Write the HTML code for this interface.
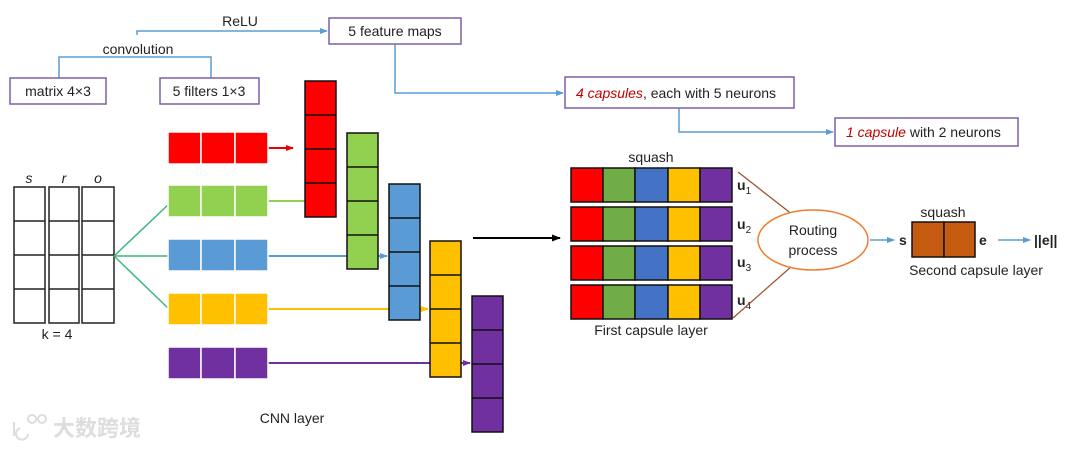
<!DOCTYPE html>
<html><head><meta charset="utf-8"><style>
body{margin:0;background:#fff}
svg text{font-family:"Liberation Sans","Noto Sans CJK SC",sans-serif;font-size:14px;fill:#222}
</style></head><body>
<svg width="1080" height="446" viewBox="0 0 1080 446" xmlns="http://www.w3.org/2000/svg">
<defs>
<marker id="ab" markerWidth="8" markerHeight="8" refX="7" refY="4" orient="auto" markerUnits="userSpaceOnUse"><path d="M0,1 L8,4 L0,7z" fill="#5b9bd5"/></marker>
<marker id="ar" markerWidth="8" markerHeight="8" refX="7" refY="4" orient="auto" markerUnits="userSpaceOnUse"><path d="M0,1 L8,4 L0,7z" fill="#e00"/></marker>
<marker id="ag" markerWidth="8" markerHeight="8" refX="7" refY="4" orient="auto" markerUnits="userSpaceOnUse"><path d="M0,1 L8,4 L0,7z" fill="#92d050"/></marker>
<marker id="abl" markerWidth="8" markerHeight="8" refX="7" refY="4" orient="auto" markerUnits="userSpaceOnUse"><path d="M0,1 L8,4 L0,7z" fill="#5b9bd5"/></marker>
<marker id="ay" markerWidth="8" markerHeight="8" refX="7" refY="4" orient="auto" markerUnits="userSpaceOnUse"><path d="M0,1 L8,4 L0,7z" fill="#ffc000"/></marker>
<marker id="ap" markerWidth="8" markerHeight="8" refX="7" refY="4" orient="auto" markerUnits="userSpaceOnUse"><path d="M0,1 L8,4 L0,7z" fill="#7030a0"/></marker>
<marker id="ak" markerWidth="9" markerHeight="9" refX="8" refY="4.5" orient="auto" markerUnits="userSpaceOnUse"><path d="M0,1 L9,4.5 L0,8z" fill="#000"/></marker>
</defs>
<g stroke="#5b9bd5" stroke-width="1.5" fill="none">
<path d="M59,78 V57 H211 V78"/>
<path d="M137,35 V31 H327" marker-end="url(#ab)"/>
<path d="M395,44 V93 H563" marker-end="url(#ab)"/>
<path d="M679,108 V132 H833" marker-end="url(#ab)"/>
</g>
<text x="240" y="26" text-anchor="middle">ReLU</text>
<text x="138" y="54" text-anchor="middle">convolution</text>
<g fill="#fff" stroke="#7f5fa8" stroke-width="1.5">
<rect x="329" y="18" width="132" height="26"/>
<rect x="10" y="78" width="96" height="26"/>
<rect x="160" y="78" width="99" height="26"/>
<rect x="565" y="77" width="229" height="31"/>
<rect x="835" y="118" width="183" height="28"/>
</g>
<text x="395" y="36" text-anchor="middle">5 feature maps</text>
<text x="58" y="96" text-anchor="middle">matrix 4×3</text>
<text x="209" y="96" text-anchor="middle">5 filters 1×3</text>
<text x="576" y="98"><tspan font-style="italic" style="fill:#c00000">4 capsules</tspan>, each with 5 neurons</text>
<text x="846" y="137"><tspan font-style="italic" style="fill:#c00000">1 capsule</tspan> with 2 neurons</text>
<g fill="#fff" stroke="#222" stroke-width="1.5">
<rect x="14" y="187" width="31" height="136"/><rect x="49" y="187" width="30" height="136"/><rect x="82" y="187" width="32" height="136"/>
<path d="M14,221H45M14,255H45M14,289H45M49,221H79M49,255H79M49,289H79M82,221H114M82,255H114M82,289H114"/>
</g>
<text x="29" y="183" text-anchor="middle" font-style="italic">s</text>
<text x="64" y="183" text-anchor="middle" font-style="italic">r</text>
<text x="98" y="183" text-anchor="middle" font-style="italic">o</text>
<text x="57" y="339" text-anchor="middle">k = 4</text>
<g stroke="#3cb878" stroke-width="1.5"><path d="M114,256 L170,203 M114,256 L170,256 M114,256 L170,310"/></g>
<line x1="268" y1="148" x2="293" y2="148" stroke="#e00" stroke-width="2" marker-end="url(#ar)"/>
<line x1="268" y1="201" x2="335" y2="201" stroke="#92d050" stroke-width="2" marker-end="url(#ag)"/>
<line x1="268" y1="256" x2="387" y2="256" stroke="#5b9bd5" stroke-width="2" marker-end="url(#abl)"/>
<line x1="268" y1="309" x2="428" y2="309" stroke="#ffc000" stroke-width="2" marker-end="url(#ay)"/>
<line x1="268" y1="363" x2="470" y2="363" stroke="#7030a0" stroke-width="2" marker-end="url(#ap)"/>
<g stroke="#fff" stroke-width="1.5">
<g fill="#ff0000"><rect x="168" y="132" width="33" height="32"/><rect x="201" y="132" width="34" height="32"/><rect x="235" y="132" width="33" height="32"/></g>
<g fill="#92d050"><rect x="168" y="185" width="33" height="32"/><rect x="201" y="185" width="34" height="32"/><rect x="235" y="185" width="33" height="32"/></g>
<g fill="#5b9bd5"><rect x="168" y="239" width="33" height="32"/><rect x="201" y="239" width="34" height="32"/><rect x="235" y="239" width="33" height="32"/></g>
<g fill="#ffc000"><rect x="168" y="293" width="33" height="32"/><rect x="201" y="293" width="34" height="32"/><rect x="235" y="293" width="33" height="32"/></g>
<g fill="#7030a0"><rect x="168" y="347" width="33" height="32"/><rect x="201" y="347" width="34" height="32"/><rect x="235" y="347" width="33" height="32"/></g>
</g>
<g stroke="#111" stroke-width="1.5">
<rect x="305" y="81" width="31" height="136" fill="#ff0000"/><path d="M305,115H336M305,149H336M305,183H336"/>
<rect x="347" y="133" width="31" height="136" fill="#92d050"/><path d="M347,167H378M347,201H378M347,235H378"/>
<rect x="389" y="184" width="31" height="136" fill="#5b9bd5"/><path d="M389,218H420M389,252H420M389,286H420"/>
<rect x="430" y="241" width="31" height="136" fill="#ffc000"/><path d="M430,275H461M430,309H461M430,343H461"/>
<rect x="472" y="296" width="31" height="136" fill="#7030a0"/><path d="M472,330H503M472,364H503M472,398H503"/>
</g>
<text x="292" y="423" text-anchor="middle">CNN layer</text>
<line x1="473" y1="238" x2="560" y2="238" stroke="#000" stroke-width="2" marker-end="url(#ak)"/>
<g stroke="#111" stroke-width="1.5">
<g id="row">
<rect x="571" y="168" width="32" height="34" fill="#ff0000"/><rect x="603" y="168" width="32" height="34" fill="#70ad47"/><rect x="635" y="168" width="33" height="34" fill="#4472c4"/><rect x="668" y="168" width="32" height="34" fill="#ffc000"/><rect x="700" y="168" width="32" height="34" fill="#7030a0"/>
</g>
<use href="#row" y="39"/><use href="#row" y="78"/><use href="#row" y="117"/>
</g>
<text x="651" y="162" text-anchor="middle">squash</text>
<text x="651" y="335" text-anchor="middle">First capsule layer</text>
<text x="737" y="190" font-weight="bold">u<tspan font-size="10" dy="4" font-weight="normal">1</tspan></text>
<text x="737" y="229" font-weight="bold">u<tspan font-size="10" dy="4" font-weight="normal">2</tspan></text>
<text x="737" y="267" font-weight="bold">u<tspan font-size="10" dy="4" font-weight="normal">3</tspan></text>
<text x="737" y="305" font-weight="bold">u<tspan font-size="10" dy="4" font-weight="normal">4</tspan></text>
<g stroke="#a0522d" stroke-width="1.3"><path d="M738,172 L793,215 M733,318 L792,266"/></g>
<ellipse cx="813" cy="240" rx="55" ry="30" fill="#fff" stroke="#ed7d31" stroke-width="1.5"/>
<text x="813" y="235" text-anchor="middle">Routing</text>
<text x="813" y="255" text-anchor="middle">process</text>
<line x1="870" y1="240" x2="894" y2="240" stroke="#5b9bd5" stroke-width="1.5" marker-end="url(#ab)"/>
<text x="899" y="245" font-weight="bold">s</text>
<g stroke="#111" stroke-width="1.5" fill="#c55a11"><rect x="912" y="222" width="32" height="35"/><rect x="944" y="222" width="31" height="35"/></g>
<text x="943" y="217" text-anchor="middle">squash</text>
<text x="979" y="245" font-weight="bold">e</text>
<line x1="998" y1="240" x2="1030" y2="240" stroke="#5b9bd5" stroke-width="1.5" marker-end="url(#ab)"/>
<text x="1034" y="245" font-weight="bold">||e||</text>
<text x="976" y="275" text-anchor="middle">Second capsule layer</text>
<g stroke="#ddd" stroke-width="2" fill="none"><path d="M14,422 V436 M20,428 a6,6 0 1,0 8,6"/><circle cx="32" cy="419" r="4"/><circle cx="42" cy="419" r="4"/></g>
<text x="53" y="436" style="fill:#ddd;font-size:22px;font-weight:bold">大数跨境</text>
</svg>
</body></html>
